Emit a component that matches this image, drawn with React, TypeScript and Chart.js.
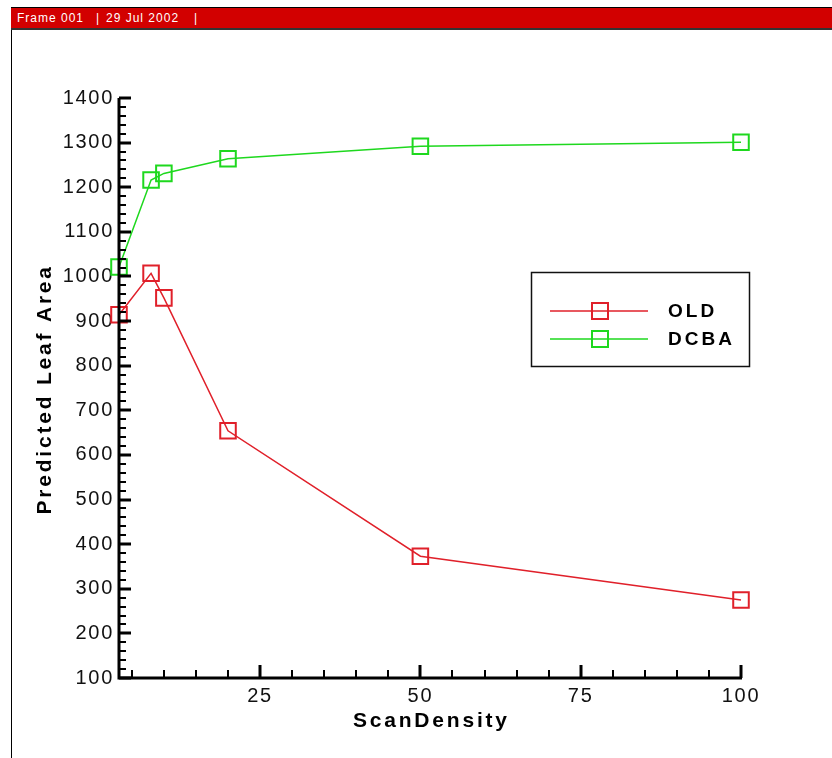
import React, { useEffect, useRef } from 'react';
import { Chart, registerables } from 'chart.js';

Chart.register(...registerables);

// ---- data ----
const scanDensity = [3, 8, 10, 20, 50, 100];
const oldValues = [914, 1007, 952, 654, 373, 275];
const dcbaValues = [1021, 1216, 1231, 1264, 1292, 1301];
const seriesNames = ['OLD', 'DCBA'];
const seriesColors = ['#e0202a', '#1ed81e'];
const xTickValues = [25, 50, 75, 100];
const xMinorStep = 5;
const yMinorStep = 20;
const yMajorStep = 100;
const xRange = [3, 100];
const yRange = [100, 1400];
const xTitle = 'ScanDensity';
const yTitle = 'Predicted Leaf Area';

const FONT = "'Liberation Sans', Arial, Helvetica, sans-serif";

const axesPlugin = {
  id: 'tecAxes',
  beforeDraw(chart: any) {
    chart.ctx.letterSpacing = '1.7px';
  },
  afterDatasetsDraw(chart: any) {
    const { ctx, chartArea: a, scales } = chart;
    const x = scales.x;
    const y = scales.y;
    ctx.save();
    ctx.strokeStyle = '#000';
    ctx.lineCap = 'butt';
    for (let v = yRange[0]; v <= yRange[1] + 0.001; v += yMinorStep) {
      const py = Math.round(y.getPixelForValue(v));
      const major = Math.abs(v % yMajorStep) < 0.001;
      ctx.lineWidth = major ? 3 : 2;
      ctx.beginPath();
      ctx.moveTo(a.left, py);
      ctx.lineTo(a.left + (major ? 12 : 7), py);
      ctx.stroke();
    }
    for (let v = xMinorStep; v <= xRange[1] + 0.001; v += xMinorStep) {
      if (v < xRange[0]) continue;
      const px = Math.round(x.getPixelForValue(v));
      const major = xTickValues.includes(v);
      ctx.lineWidth = major ? 3 : 2;
      ctx.beginPath();
      ctx.moveTo(px, a.bottom);
      ctx.lineTo(px, a.bottom - (major ? 13 : 8));
      ctx.stroke();
    }
    ctx.lineWidth = 3;
    ctx.beginPath();
    ctx.moveTo(a.left, a.top);
    ctx.lineTo(a.left, a.bottom);
    ctx.lineTo(a.right + 1, a.bottom);
    ctx.stroke();
    ctx.restore();
  },
  afterDraw(chart: any) {
    const { ctx, chartArea: a } = chart;
    ctx.save();
    ctx.fillStyle = '#000';
    ctx.font = `bold 21px ${FONT}`;
    ctx.letterSpacing = '2.8px';
    ctx.textAlign = 'center';
    ctx.textBaseline = 'middle';
    ctx.fillText(xTitle, (a.left + a.right) / 2 + 1.4, 721);
    ctx.save();
    ctx.translate(45, (a.top + a.bottom) / 2 + 1.4);
    ctx.rotate(-Math.PI / 2);
    ctx.fillText(yTitle, 0, 0);
    ctx.restore();

    const bx = 531, by = 272, bw = 218, bh = 94;
    ctx.strokeStyle = '#111';
    ctx.lineWidth = 1.5;
    ctx.strokeRect(bx + 0.5, by + 0.5, bw, bh);
    const rows = [311, 339];
    chart.data.datasets.forEach((ds: any, i: number) => {
      const ry = rows[i];
      ctx.strokeStyle = ds.borderColor;
      ctx.lineWidth = 1.5;
      ctx.beginPath();
      ctx.moveTo(550, ry);
      ctx.lineTo(648, ry);
      ctx.stroke();
      ctx.lineWidth = 2;
      ctx.strokeRect(592, ry - 8, 16, 16);
      ctx.fillStyle = '#000';
      ctx.font = `bold 19px ${FONT}`;
      ctx.letterSpacing = '3px';
      ctx.textAlign = 'left';
      ctx.textBaseline = 'middle';
      ctx.fillText(ds.label, 668, ry + 1);
    });
    ctx.restore();
  },
};

export default function App() {
  const ref = useRef<HTMLCanvasElement | null>(null);

  useEffect(() => {
    if (!ref.current) return;
    const mk = (vals: number[], i: number) => ({
      label: seriesNames[i],
      data: scanDensity.map((xv, k) => ({ x: xv, y: vals[k] })),
      borderColor: seriesColors[i],
      borderWidth: 1.5,
      pointStyle: 'rect',
      pointRadius: 11,
      pointBorderWidth: 2,
      pointBorderColor: seriesColors[i],
      pointBackgroundColor: 'rgba(0,0,0,0)',
      tension: 0,
      clip: false,
      fill: false,
    });
    const chart = new Chart(ref.current, {
      type: 'line',
      data: { datasets: [mk(oldValues, 0), mk(dcbaValues, 1)] as any },
      options: {
        animation: false,
        responsive: false,
        events: [],
        layout: { padding: { left: 0, top: 98, right: 91, bottom: 0 } },
        plugins: { legend: { display: false }, tooltip: { enabled: false } },
        scales: {
          x: {
            type: 'linear',
            min: xRange[0],
            max: xRange[1],
            afterBuildTicks: (s: any) => {
              s.ticks = xTickValues.map((v) => ({ value: v }));
            },
            afterFit: (s: any) => {
              s.height = 80;
            },
            grid: { display: false, drawTicks: false, tickLength: 0 },
            border: { display: false },
            ticks: {
              color: '#111',
              font: { family: FONT, size: 20 },
              padding: 6,
              maxRotation: 0,
              autoSkip: false,
              callback: (v: any) => String(v),
            },
          },
          y: {
            type: 'linear',
            min: yRange[0],
            max: yRange[1],
            ticks: {
              stepSize: yMajorStep,
              color: '#111',
              font: { family: FONT, size: 20 },
              padding: 5,
              autoSkip: false,
              callback: (v: any) => String(v),
            },
            afterFit: (s: any) => {
              s.width = 119;
            },
            grid: { display: false, drawTicks: false, tickLength: 0 },
            border: { display: false },
          },
        },
      } as any,
      plugins: [axesPlugin],
    });
    return () => chart.destroy();
  }, []);

  return (
    <div style={{ position: 'fixed', left: 0, top: 0, width: 832, height: 758, background: '#fff', overflow: 'hidden' }}>
      <canvas ref={ref} width={832} height={758} style={{ position: 'absolute', left: 0, top: 0, width: 832, height: 758 }} />
      <div style={{ position: 'absolute', left: 11, top: 7, width: 1, height: 751, background: '#000' }} />
      <div
        style={{
          position: 'absolute',
          left: 11,
          top: 7,
          width: 821,
          height: 20,
          background: '#d20000',
          borderTop: '1px solid #000',
          borderBottom: '2px solid #333',
          color: '#fff',
          fontFamily: FONT,
          fontSize: 12,
          letterSpacing: '1px',
          lineHeight: '20px',
        }}
      >
        <span style={{ position: 'absolute', left: 6, top: 0 }}>Frame 001</span>
        <span style={{ position: 'absolute', left: 85, top: 0 }}>|</span>
        <span style={{ position: 'absolute', left: 95, top: 0 }}>29 Jul 2002</span>
        <span style={{ position: 'absolute', left: 183, top: 0 }}>|</span>
      </div>
    </div>
  );
}
